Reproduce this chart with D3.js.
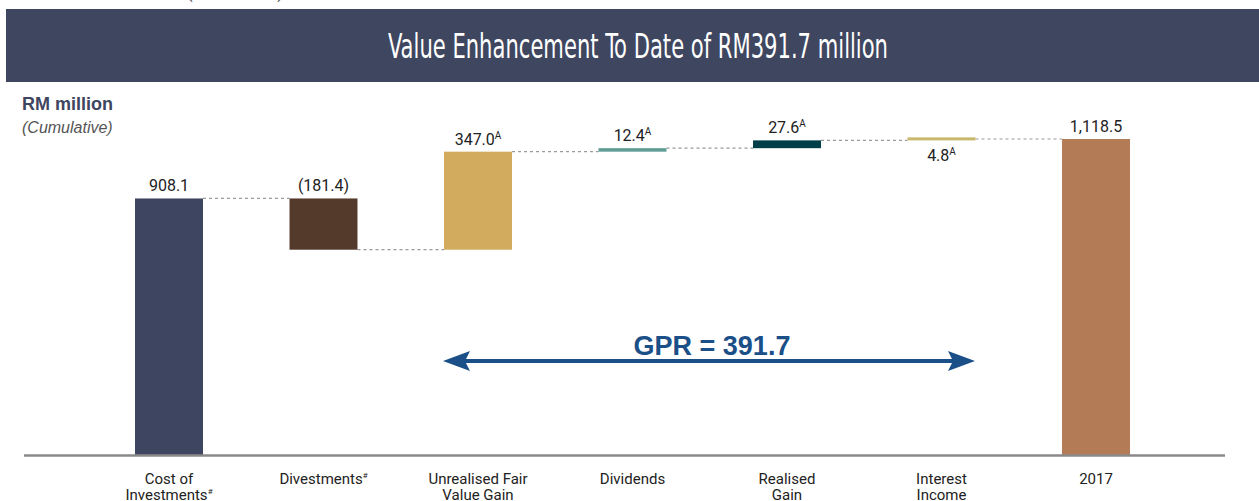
<!DOCTYPE html>
<html>
<head>
<meta charset="utf-8">
<script src="https://cdn.jsdelivr.net/npm/d3@7"></script>
<style>
  body { margin: 0; background: #fff; }
  svg { display: block; }
</style>
</head>
<body>
<svg id="chart" width="1259" height="501"></svg>
<script>
// waterfall data
const categories = ["Cost of Investments", "Divestments", "Unrealised Fair Value Gain", "Dividends", "Realised Gain", "Interest Income", "2017"]
const catLines = [["Cost of", "Investments#"], ["Divestments#"], ["Unrealised Fair", "Value Gain"], ["Dividends"], ["Realised", "Gain"], ["Interest", "Income"], ["2017"]]
const changes = [908.1, -181.4, 347.0, 12.4, 27.6, 4.8, 1118.5]
const isTotal = [true, false, false, false, false, false, true]
const valueLabels = ["908.1", "(181.4)", "347.0", "12.4", "27.6", "4.8", "1,118.5"]
const superA = [false, false, true, true, true, true, false]
const colors = ["#3d4560", "#543a2b", "#d2ab5f", "#5f9c94", "#003e48", "#c9b76a", "#b47c56"]
const gprValue = 391.7

const svg = d3.select("#chart")
const W = 1259

// header banner
svg.append("text").attr("x", 235).attr("y", -2).attr("text-anchor", "middle")
    .attr("font-family", "Roboto, sans-serif").attr("font-size", 18).attr("fill", "#555")
    .text("(RM million)")
svg.append("rect").attr("x", 6).attr("y", 9).attr("width", W - 6).attr("height", 73).attr("fill", "#3e4660")
svg.append("text").attr("x", 638).attr("y", 58).attr("text-anchor", "middle")
    .attr("font-family", "'DejaVu Sans Condensed', 'Liberation Sans Narrow', sans-serif")
    .attr("font-size", 34).attr("fill", "#fff")
    .attr("textLength", 500).attr("lengthAdjust", "spacingAndGlyphs")
    .text("Value Enhancement To Date of RM391.7 million")

svg.append("text").attr("x", 22).attr("y", 110)
    .attr("font-family", "Arial, 'Liberation Sans', sans-serif").attr("font-weight", "bold")
    .attr("font-size", 18).attr("fill", "#3d4560").text("RM million")
svg.append("text").attr("x", 22).attr("y", 133)
    .attr("font-family", "Arial, 'Liberation Sans', sans-serif").attr("font-style", "italic")
    .attr("font-size", 16).attr("fill", "#555").text("(Cumulative)")

// scales
const x = d3.scaleBand().domain(categories).range([91.75, 1173.25]).paddingInner(0.56).paddingOuter(0.28)
const y = d3.scaleLinear().domain([0, 1200]).range([455, 455 - 1200 * 0.2825])

// compute waterfall steps
let running = 0
const steps = categories.map((c, i) => {
    let start, end
    if (isTotal[i]) { start = 0; end = changes[i] }
    else { start = running; end = running + changes[i] }
    running = end
    return { cat: c, i, start, end, lo: Math.min(start, end), hi: Math.max(start, end) }
})

// connectors
const conn = svg.append("g").attr("stroke", "#9a9a9a").attr("stroke-width", 1.2).attr("stroke-dasharray", "3,3")
steps.slice(0, -1).forEach((s, i) => {
    const yv = y(s.end)
    conn.append("line")
        .attr("x1", x(s.cat) + x.bandwidth()).attr("x2", x(categories[i + 1]))
        .attr("y1", yv).attr("y2", yv)
})

// bars
svg.append("g").selectAll("rect").data(steps).join("rect")
    .attr("x", d => x(d.cat))
    .attr("width", x.bandwidth())
    .attr("y", d => Math.min(y(d.hi), y(d.lo) - 3))
    .attr("height", d => Math.max(y(d.lo) - y(d.hi), 3))
    .attr("fill", d => colors[d.i])

// value labels
const lab = svg.append("g").attr("font-family", "Roboto, Arial, sans-serif").attr("font-size", 16).attr("fill", "#222").attr("text-anchor", "middle")
steps.forEach(d => {
    const below = d.i === 5
    const t = lab.append("text")
        .attr("x", x(d.cat) + x.bandwidth() / 2)
        .attr("y", below ? y(d.lo) + 21 : y(d.hi) - 7)
    t.append("tspan").text(valueLabels[d.i])
    if (superA[d.i]) t.append("tspan").attr("font-size", 10).attr("dy", -6).text("A")
})

// axis baseline
svg.append("line").attr("x1", 24).attr("x2", 1225).attr("y1", 455.5).attr("y2", 455.5)
    .attr("stroke", "#8a8a8a").attr("stroke-width", 2.5)

// category labels
const cl = svg.append("g").attr("font-family", "Roboto, Arial, sans-serif").attr("font-size", 15).attr("fill", "#222").attr("text-anchor", "middle")
categories.forEach((c, i) => {
    catLines[i].forEach((ln, j) => {
        const t = cl.append("text").attr("x", x(c) + x.bandwidth() / 2).attr("y", 484 + j * 16)
        if (ln.endsWith("#")) {
            t.append("tspan").text(ln.slice(0, -1))
            t.append("tspan").attr("font-size", 8).attr("dy", -6).text("#")
        } else t.text(ln)
    })
})

// GPR arrow
const blue = "#1b4f87"
const ax1 = 443, ax2 = 975, ay = 361
svg.append("line").attr("x1", ax1 + 15).attr("x2", ax2 - 15).attr("y1", ay).attr("y2", ay)
    .attr("stroke", blue).attr("stroke-width", 4)
svg.append("path").attr("fill", blue)
    .attr("d", `M${ax1},${ay} L${ax1 + 27},${ay - 10} L${ax1 + 22},${ay} L${ax1 + 27},${ay + 10} Z`)
svg.append("path").attr("fill", blue)
    .attr("d", `M${ax2},${ay} L${ax2 - 27},${ay - 10} L${ax2 - 22},${ay} L${ax2 - 27},${ay + 10} Z`)
svg.append("text").attr("x", 712).attr("y", 355).attr("text-anchor", "middle")
    .attr("font-family", "Arial, 'Liberation Sans', sans-serif").attr("font-weight", "bold")
    .attr("font-size", 27).attr("fill", blue).text(`GPR = ${gprValue}`)
</script>
</body>
</html>
